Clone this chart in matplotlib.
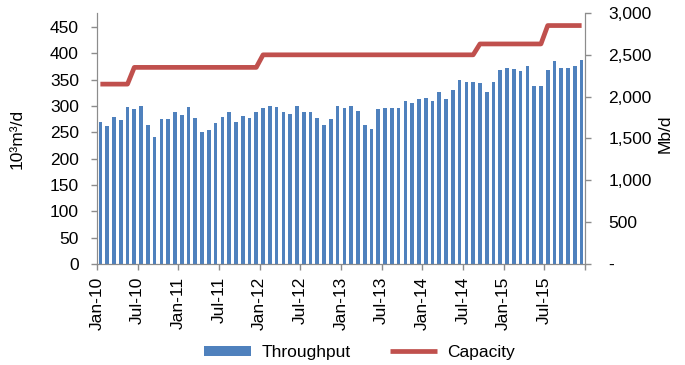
import matplotlib
matplotlib.use("Agg")
import matplotlib.pyplot as plt
from matplotlib.ticker import FuncFormatter
import numpy as np

plt.rcParams["font.family"] = ["Liberation Sans", "DejaVu Sans"]

# monthly throughput, 10^3 m3/d, Jan-10 .. Dec-15
throughput = [
    269, 262, 279, 273, 299, 295, 300, 264, 242, 275, 275, 288,
    283, 298, 277, 251, 255, 267, 280, 288, 270, 282, 277, 289,
    296, 301, 299, 289, 285, 301, 288, 289, 277, 265, 276, 301,
    297, 301, 291, 265, 257, 295, 296, 297, 296, 310, 305, 314,
    316, 310, 326, 314, 330, 349, 345, 345, 344, 326, 346, 369,
    372, 370, 367, 376, 339, 338, 368, 386, 372, 372, 376, 387,
]
# pipeline capacity, Mb/d (right axis)
capacity = [2150] * 5 + [2350] * 19 + [2500] * 32 + [2630] * 10 + [2850] * 6

tick_labels = ["Jan-10", "Jul-10", "Jan-11", "Jul-11", "Jan-12", "Jul-12",
               "Jan-13", "Jul-13", "Jan-14", "Jul-14", "Jan-15", "Jul-15", ""]

BLUE = "#4F81BD"
RED = "#C0504D"
GREY = "#8c8c8c"
M3_TO_BBL = 6.2898

fig = plt.figure(figsize=(6.85, 3.65), dpi=100)
ax = fig.add_axes([0.1416, 0.2767, 0.7124, 0.6877])
ax2 = ax.twinx()

x = np.arange(len(throughput)) + 0.5
ax.bar(x, throughput, width=0.55, color=BLUE, label="Throughput", zorder=2)
ax2.plot(x, capacity, color=RED, lw=3.4, label="Capacity", solid_capstyle="butt")

ax.set_xlim(0, len(throughput))
ax.set_ylim(0, 3000 / M3_TO_BBL)
ax2.set_ylim(0, 3000)
ax.set_yticks(np.arange(0, 451, 50))
ax2.set_yticks(np.arange(0, 3001, 500))
ax2.yaxis.set_major_formatter(FuncFormatter(lambda v, p: "-" if v == 0 else f"{v:,.0f}"))

ax.set_xticks(np.arange(0, 73, 6))
ax.set_xticklabels(tick_labels, rotation=90)

for a in (ax, ax2):
    for s in a.spines.values():
        s.set_color(GREY)
    a.spines["top"].set_visible(False)
    a.tick_params(colors=GREY, labelcolor="black", labelsize=12.5, length=4, width=1)
ax.tick_params(axis="y", pad=9)
ax2.tick_params(axis="y", pad=13)
ax.tick_params(axis="x", pad=5)

ax.set_ylabel("10³m³/d", fontsize=12.5)
ax.yaxis.set_label_coords(-0.148, 0.5)
ax2.set_ylabel("Mb/d", fontsize=12.5)
ax2.yaxis.set_label_coords(1.148, 0.52)

h1, l1 = ax.get_legend_handles_labels()
h2, l2 = ax2.get_legend_handles_labels()
fig.legend(h1 + h2, l1 + l2, loc="center", bbox_to_anchor=(0.525, 0.035), ncol=2,
           frameon=False, fontsize=12.5, handlelength=2.7, handleheight=0.5,
           columnspacing=2.3, handletextpad=0.6)

fig.savefig("out.png", dpi=100)
